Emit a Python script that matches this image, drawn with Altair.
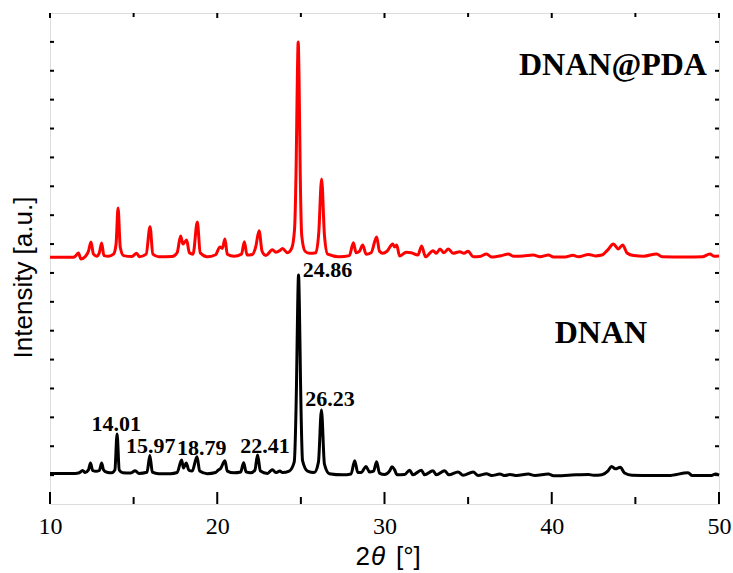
import altair as alt
import pandas as pd

# ---- XRD patterns (2θ in degrees, intensity in counts, offset stacked) ----
pda_theta = [10.0, 11.4, 11.55, 11.7, 11.85, 12.1, 12.3, 12.45, 12.6, 12.8, 12.95, 13.09, 13.22,
             13.5, 13.8, 13.95, 14.07, 14.2, 14.4, 14.9, 15.18, 15.35, 15.75, 15.98, 16.15, 16.5,
             17.3, 17.6, 17.81, 17.95, 18.17, 18.33, 18.55, 18.81, 18.98, 19.4, 19.9, 20.16, 20.3,
             20.46, 20.6, 21.0, 21.45, 21.62, 21.78, 22.1, 22.3, 22.5, 22.68, 22.9, 23.3, 23.5,
             23.75, 23.9, 24.2, 24.45, 24.62, 24.72, 24.79, 24.84, 24.89, 24.96, 25.05, 25.25, 25.5,
             25.9, 26.07, 26.24, 26.41, 26.6, 27.3, 27.9, 28.14, 28.3, 28.5, 28.7, 28.9, 29.2,
             29.53, 29.7, 29.9, 30.15, 30.49, 30.6, 30.73, 30.9, 31.3, 31.6, 32.0, 32.22, 32.45,
             32.9, 33.1, 33.32, 33.55, 33.82, 34.1, 34.5, 34.75, 35.0, 35.3, 35.7, 36.1, 36.4,
             37.0, 37.4, 37.7, 38.3, 38.9, 39.3, 39.8, 40.1, 40.8, 41.27, 41.6, 42.2, 42.6, 43.0,
             43.35, 43.68, 43.98, 44.24, 44.5, 44.9, 45.5, 46.27, 46.6, 48.0, 49.0, 49.46, 49.7, 50.0]
pda_counts = [8540, 8540, 8600, 8690, 8480, 8560, 8750, 9073, 8650, 8580, 8700, 9040, 8600,
              8580, 8650, 9000, 10250, 8900, 8600, 8570, 8680, 8560, 8650, 9603, 8650, 8560,
              8570, 8700, 9281, 9000, 9142, 8700, 8650, 9766, 8700, 8560, 8630, 8900, 8850,
              9177, 8650, 8580, 8650, 9083, 8620, 8640, 8900, 9465, 8750, 8600, 8800, 8720,
              8780, 8850, 8700, 8850, 9500, 11800, 14800, 16000, 14800, 11500, 9300, 8750, 8680,
              8700, 9400, 11255, 9300, 8650, 8560, 8600, 9049, 8700, 8750, 8969, 8650, 8700,
              9246, 8750, 8680, 8750, 9004, 8900, 8969, 8590, 8720, 8700, 8620, 8935, 8560,
              8772, 8680, 8831, 8700, 8831, 8680, 8737, 8680, 8750, 8560, 8570, 8658, 8550,
              8600, 8658, 8580, 8590, 8620, 8560, 8620, 8550, 8550, 8610, 8560, 8640, 8590, 8620,
              8800, 9004, 8831, 8970, 8692, 8600, 8580, 8658, 8560, 8550, 8560, 8658, 8580, 8590]

dnan_theta = [10.0, 11.5, 11.75, 11.95, 12.1, 12.3, 12.42, 12.55, 12.75, 12.95, 13.09, 13.2, 13.4,
              13.7, 13.88, 14.01, 14.14, 14.35, 14.8, 15.1, 15.3, 15.8, 15.97, 16.12, 16.5, 17.2,
              17.6, 17.87, 17.98, 18.15, 18.3, 18.5, 18.79, 18.95, 19.4, 19.9, 20.07, 20.2, 20.46,
              20.6, 21.0, 21.4, 21.58, 21.72, 22.0, 22.25, 22.41, 22.58, 23.0, 23.3, 23.5, 23.75,
              23.9, 24.3, 24.6, 24.74, 24.81, 24.86, 24.91, 24.98, 25.1, 25.4, 25.8, 26.05, 26.23,
              26.41, 26.7, 27.5, 28.0, 28.22, 28.4, 28.6, 28.9, 29.1, 29.35, 29.53, 29.7, 30.0,
              30.3, 30.45, 30.6, 30.75, 31.2, 31.5, 31.7, 32.2, 32.4, 32.9, 33.1, 33.6, 33.85,
              34.4, 34.7, 35.3, 35.6, 36.1, 36.4, 36.9, 37.2, 37.5, 37.9, 38.6, 39.0, 39.8, 40.1,
              41.0, 42.2, 42.5, 43.0, 43.35, 43.58, 43.8, 44.1, 44.35, 44.8, 46.0, 47.0, 48.15,
              48.4, 49.5, 49.8, 50.0]
dnan_counts = [1060, 1060, 1080, 1160, 1090, 1180, 1420, 1160, 1130, 1160, 1420, 1180, 1100,
               1080, 1180, 2424, 1180, 1080, 1070, 1150, 1060, 1100, 1680, 1100, 1050, 1050,
               1090, 1524, 1250, 1420, 1170, 1140, 1640, 1140, 1050, 1090, 1177, 1230, 1500,
               1140, 1080, 1110, 1430, 1110, 1080, 1170, 1700, 1140, 1060, 1190, 1090, 1140,
               1090, 1140, 1450, 4200, 6900, 7930, 6900, 4200, 1500, 1140, 1090, 1450, 3255,
               1380, 1050, 1010, 1040, 1500, 1090, 1090, 1300, 1110, 1140, 1465, 1070, 1020,
               1140, 1290, 1190, 1010, 1020, 1170, 1010, 1170, 1010, 1150, 1010, 1150, 1010,
               1110, 995, 1110, 985, 1045, 985, 1035, 985, 1025, 985, 1035, 985, 1035, 980,
               995, 1025, 995, 1015, 1140, 1300, 1220, 1270, 1075, 995, 985, 985, 1085,
               985, 985, 1035, 1000]

# annotated DNAN reflections and where their labels sit
peak_pos = [14.01, 15.97, 18.79, 22.41, 24.86, 26.23]
label_theta = [13.96, 16.02, 19.07, 22.86, 26.59, 26.74]
label_counts = [2530, 1770, 1700, 1770, 7860, 3400]

# sample names written inside the plot
sample_names = ["DNAN@PDA", "DNAN"]
name_theta = [43.66, 42.94]
name_counts = [14860, 5580]

# axis ticks
x_major = [10, 20, 30, 40, 50]
x_minor = [15, 25, 35, 45]
y_ticks = list(range(1000, 17000, 1000))

W, H = 669, 491
SERIF = "Liberation Serif"
SANS = "Liberation Sans"

xs = alt.Scale(domain=[10, 50], nice=False, zero=False)
ys = alt.Scale(domain=[0, 17000], nice=False, zero=False)

patterns = pd.concat([
    pd.DataFrame({"theta": pda_theta, "counts": pda_counts, "sample": "DNAN@PDA"}),
    pd.DataFrame({"theta": dnan_theta, "counts": dnan_counts, "sample": "DNAN"}),
])

lines = alt.Chart(patterns).mark_line(interpolate="monotone", strokeWidth=3, strokeJoin="round").encode(
    x=alt.X("theta:Q", scale=xs, title=None,
            axis=alt.Axis(values=x_major, format="d", ticks=False, domain=False, grid=False,
                          labelFont=SERIF, labelFontSize=24, labelColor="black",
                          labelPadding=10, labelFlush=False, labelOverlap=False)),
    y=alt.Y("counts:Q", scale=ys,
            axis=alt.Axis(title="Intensity [a.u.]", labels=False, ticks=False, domain=False,
                          grid=False, titleFont=SANS, titleFontSize=26, titleFontWeight="normal",
                          titleColor="black", titleAngle=270, titleX=-27, titleY=264,
                          titleAlign="center", titleBaseline="middle")),
    color=alt.Color("sample:N", scale=alt.Scale(domain=["DNAN@PDA", "DNAN"],
                                                range=["#ff0000", "#000000"]), legend=None),
    detail="sample:N",
)

labels_df = pd.DataFrame({
    "peak": peak_pos,
    "label": [f"{p:.2f}" for p in peak_pos],
    "tx": label_theta,
    "ty": label_counts,
})
peak_labels = alt.Chart(labels_df).mark_text(
    font=SERIF, fontSize=22, fontWeight="bold", color="black", baseline="alphabetic", align="center"
).encode(x=alt.X("tx:Q", scale=xs), y=alt.Y("ty:Q", scale=ys), text="label:N")

names_df = pd.DataFrame({"name": sample_names, "tx": name_theta, "ty": name_counts})
name_labels = alt.Chart(names_df).mark_text(
    font=SERIF, fontSize=32, fontWeight="bold", color="black", baseline="alphabetic", align="center"
).encode(x=alt.X("tx:Q", scale=xs), y=alt.Y("ty:Q", scale=ys), text="name:N")

# inward ticks on all four sides
def x_ticks(vals, length, top_length):
    d = pd.DataFrame({"t": vals})
    bottom = alt.Chart(d).mark_rule(color="black", strokeWidth=2).encode(
        x=alt.X("t:Q", scale=xs), y=alt.value(H), y2=alt.value(H - length))
    top = alt.Chart(d).mark_rule(color="black", strokeWidth=2).encode(
        x=alt.X("t:Q", scale=xs), y=alt.value(0), y2=alt.value(top_length))
    return bottom + top

yt = pd.DataFrame({"v": y_ticks})
y_left = alt.Chart(yt).mark_rule(color="black", strokeWidth=2).encode(
    y=alt.Y("v:Q", scale=ys), x=alt.value(0), x2=alt.value(4))
y_right = alt.Chart(yt).mark_rule(color="black", strokeWidth=2).encode(
    y=alt.Y("v:Q", scale=ys), x=alt.value(W - 4), x2=alt.value(W))

# x-axis title with an italic theta
def title_piece(text, px, align, style):
    return alt.Chart(pd.DataFrame({"s": [text]})).mark_text(
        font=SANS, fontSize=26, fontStyle=style, color="black", align=align, baseline="alphabetic"
    ).encode(text="s:N", x=alt.value(px), y=alt.value(552))

x_title = (title_piece("2", 320, "right", "normal")
           + title_piece("θ", 321, "left", "italic")
           + title_piece("[°]", 346, "left", "normal"))

chart = alt.layer(
    lines, x_ticks(x_major, 12, 5), x_ticks(x_minor, 7, 4), y_left, y_right,
    peak_labels, name_labels, x_title,
).properties(
    width=W, height=H,
    autosize=alt.AutoSizeParams(type="none"),
    padding={"left": 50, "top": 13, "right": 14, "bottom": 69},
).configure_view(
    stroke="black", strokeWidth=2.5
).configure(background="white")

chart.save("out.html", embed_options={"renderer": "svg", "actions": False})
